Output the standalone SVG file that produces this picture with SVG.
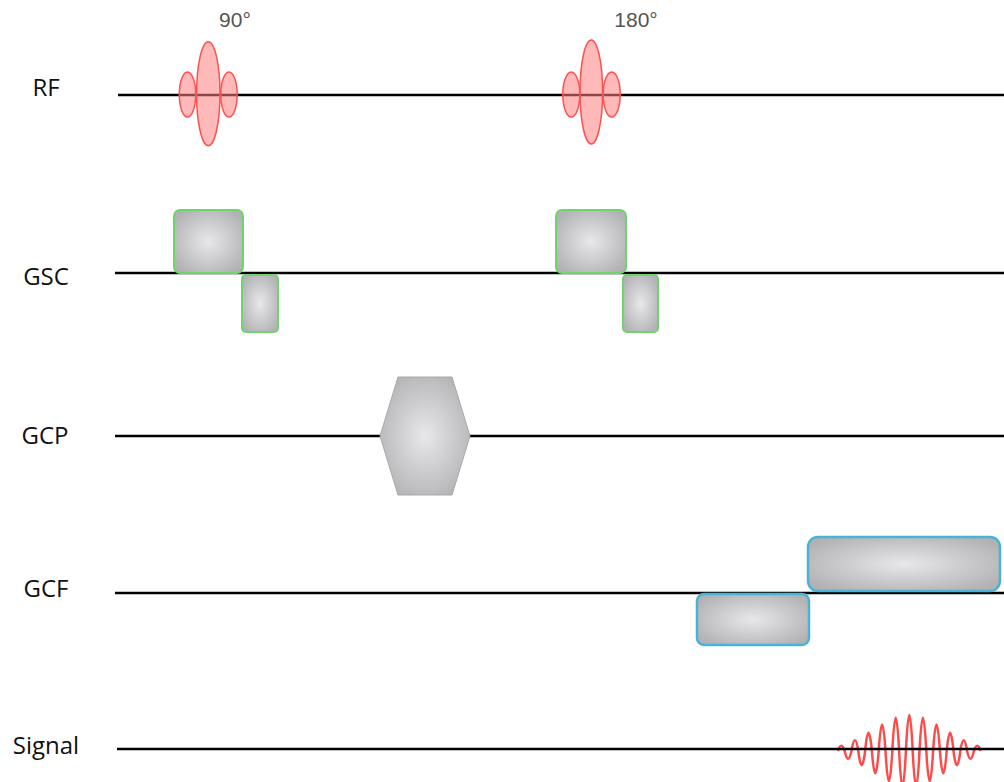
<svg xmlns="http://www.w3.org/2000/svg" width="1004" height="782" viewBox="0 0 1004 782">
<defs>
<radialGradient id="g" cx="50%" cy="50%" r="60%">
<stop offset="0" stop-color="#e8e8ea"/>
<stop offset="1" stop-color="#b2b2b4"/>
</radialGradient>
<style>
.lbl{font-family:"Open Sans","Liberation Sans",sans-serif;font-size:24px;fill:#111;text-anchor:middle}
.deg{font-family:"Liberation Sans",Arial,sans-serif;font-size:21px;fill:#555;text-anchor:middle}
.axis{stroke:#000;stroke-width:2.5;fill:none}
.rf{fill:#ff8080;fill-opacity:0.55;stroke:#ff5050;stroke-width:1.5}
.gs{fill:url(#g);stroke:#6fd36f;stroke-width:2}
.gf{fill:url(#g);stroke:#4bb2d6;stroke-width:2.5}
.gp{fill:url(#g);stroke:#a8a8a8;stroke-width:1}
.sig{fill:none;stroke:#ff4a4a;stroke-width:2.5}
</style>
</defs>
<rect width="1004" height="782" fill="#fff"/>
<g id="labels">
<text class="lbl" x="46" y="96">RF</text>
<text class="lbl" x="46" y="285">GSC</text>
<text class="lbl" x="45" y="444">GCP</text>
<text class="lbl" x="46" y="597">GCF</text>
<text class="lbl" x="46" y="754">Signal</text>
<text class="deg" x="235" y="27">90°</text>
<text class="deg" x="636" y="27">180°</text>
</g>
<g id="signal-wave">
<path class="sig" d="M837.9 751 Q841.3 740.3 844.7 751 Q848.1 766.38 851.5 751 Q854.9 729.74 858.3 751 Q861.7 779.3 865.1 751 Q868.5 714.74 871.9 751 Q875.3 795.7 878.7 751 Q882.1 697.94 885.5 751 Q888.9 811.64 892.3 751 Q895.7 684.3 899.1 751 Q902.5 821.64 905.9 751 Q909.3 679 912.7 751 Q916.1 821.64 919.5 751 Q922.9 684.3 926.3 751 Q929.7 811.64 933.1 751 Q936.5 697.94 939.9 751 Q943.3 795.7 946.7 751 Q950.1 714.74 953.5 751 Q956.9 779.3 960.3 751 Q963.7 729.74 967.1 751 Q970.5 766.38 973.9 751 Q977.3 740.3 980.7 751"/>
</g>
<g id="connectors">
<line class="axis" x1="118" y1="95" x2="1004" y2="95"/>
<line class="axis" x1="115" y1="273" x2="1004" y2="273"/>
<line class="axis" x1="115" y1="436" x2="1004" y2="436"/>
<line class="axis" x1="115" y1="593" x2="1004" y2="593"/>
<line class="axis" x1="117" y1="749" x2="1004" y2="749"/>
</g>
<g id="rf-90">
<ellipse class="rf" cx="187.5" cy="94.5" rx="8.2" ry="22.5"/>
<ellipse class="rf" cx="229" cy="94.5" rx="8.2" ry="22.5"/>
<ellipse class="rf" cx="208.3" cy="93.7" rx="11.7" ry="52"/>
</g>
<g id="rf-180">
<ellipse class="rf" cx="571.3" cy="94.5" rx="8.5" ry="22.5"/>
<ellipse class="rf" cx="611.7" cy="94.5" rx="8.5" ry="22.5"/>
<ellipse class="rf" cx="591.3" cy="92" rx="11.3" ry="52"/>
</g>
<g id="gsc-1">
<rect class="gs" x="174" y="210" width="69" height="63" rx="6"/>
<rect class="gs" x="242" y="275" width="36" height="57" rx="4"/>
</g>
<g id="gsc-2">
<rect class="gs" x="556" y="210" width="70" height="63" rx="6"/>
<rect class="gs" x="623" y="275" width="35" height="57" rx="4"/>
</g>
<g id="gcp">
<polygon class="gp" points="398,377 452,377 470,436 452,495 398,495 380,436"/>
</g>
<g id="gcf">
<rect class="gf" x="808" y="537" width="192" height="54" rx="10"/>
<rect class="gf" x="697" y="594" width="112" height="51" rx="7"/>
</g>
</svg>
